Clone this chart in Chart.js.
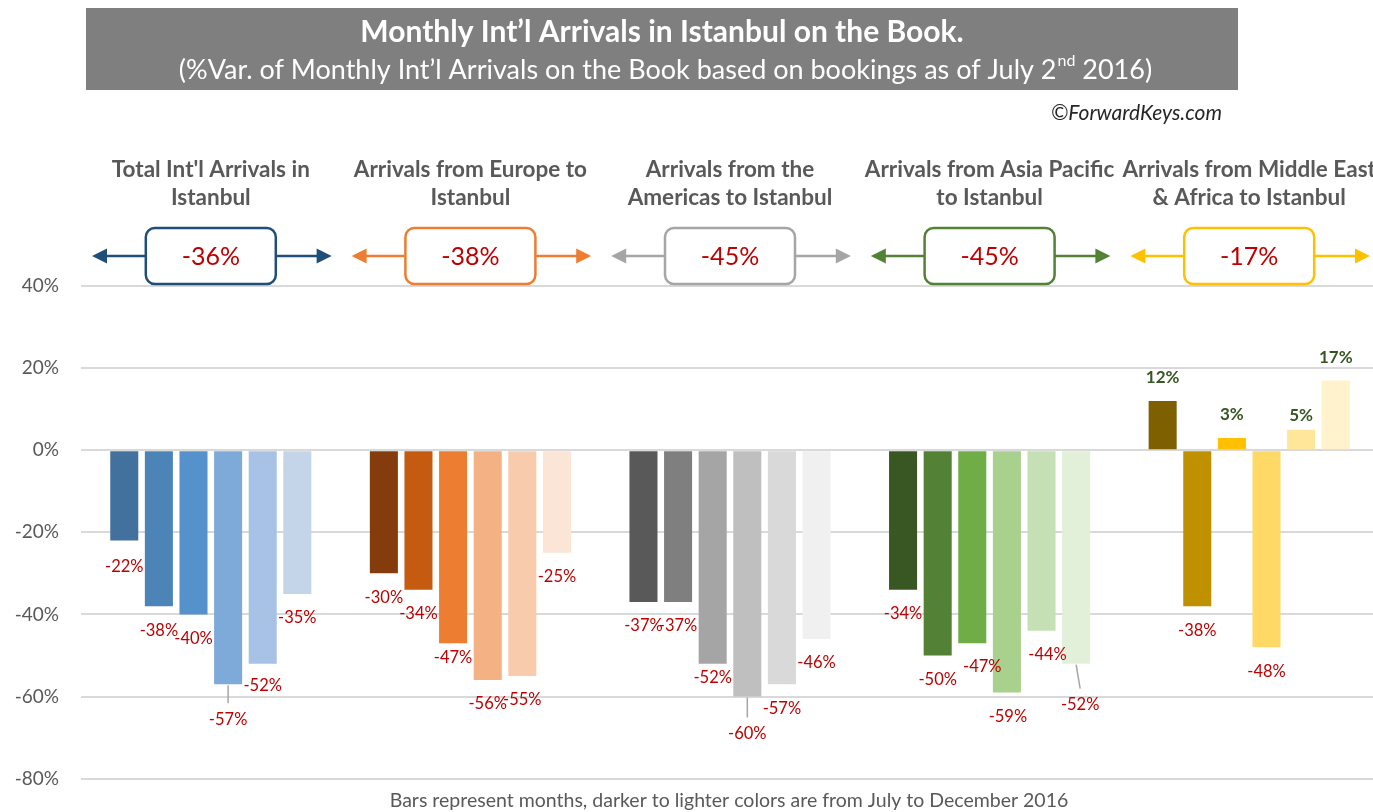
<!DOCTYPE html>
<html><head><meta charset="utf-8">
<script src="https://cdn.jsdelivr.net/npm/chart.js@4.4.1/dist/chart.umd.min.js"></script>
<style>html,body{margin:0;padding:0;overflow:hidden;background:#fff}#wrap{width:1373px;height:812px;overflow:hidden;position:relative}#c{display:block}</style>
</head><body><div id="wrap"><canvas id="c" width="1380" height="812"></canvas></div>
<script>
// ---- data ----
const groupNames = [
  ["Total Int'l Arrivals in", "Istanbul"],
  ["Arrivals from Europe to", "Istanbul"],
  ["Arrivals from the", "Americas to Istanbul"],
  ["Arrivals from Asia Pacific", "to Istanbul"],
  ["Arrivals from Middle East", "& Africa to Istanbul"]
];
const groupTotals = ["-36%", "-38%", "-45%", "-45%", "-17%"];
const months = ["Jul", "Aug", "Sep", "Oct", "Nov", "Dec"];
const totalIntl        = [-22, -38, -40, -57, -52, -35];
const europe           = [-30, -34, -47, -56, -55, -25];
const americas         = [-37, -37, -52, -60, -57, -46];
const asiaPacific      = [-34, -50, -47, -59, -44, -52];
const middleEastAfrica = [ 12, -38,   3, -48,   5,  17];
const yTicks = [40, 20, 0, -20, -40, -60, -80];

// ---- styles ----
const FONT = "Lato, 'Open Sans', sans-serif";
const palettes = [
  ['#43719d', '#4d84b7', '#5592cb', '#7eaad9', '#a7c2e4', '#c4d5ea'],
  ['#843c0c', '#c55a11', '#ed7d31', '#f4b183', '#f8cbad', '#fbe5d6'],
  ['#595959', '#7f7f7f', '#a5a5a5', '#bfbfbf', '#d9d9d9', '#f0f0f0'],
  ['#385723', '#538135', '#70ad47', '#a9d18e', '#c5e0b4', '#e2f0d9'],
  ['#7f6000', '#bf9000', '#ffc000', '#ffd966', '#ffe699', '#fff2cc']
];
const accentColors = ['#1f4e79', '#ed7d31', '#a5a5a5', '#548235', '#ffc000'];

const seriesByGroup = [totalIntl, europe, americas, asiaPacific, middleEastAfrica];
const datasets = months.map((m, i) => ({
  label: m,
  data: seriesByGroup.map(s => s[i]),
  backgroundColor: palettes.map(p => p[i]),
  borderWidth: 0,
  categoryPercentage: 0.8,
  barPercentage: 0.81
}));

// label adjustments: key "datasetIndex,groupIndex"
const labelAdjust = {
  "3,0": {dy: 35, line: true},
  "3,2": {dy: 37, line: true},
  "5,3": {dy: 41, dx: 4, line: true},
  "4,0": {dy: 22},
  "2,1": {dy: 15},
  "2,2": {dy: 14},
  "4,4": {dy: -14},
  "0,0": {dy: 26},
  "2,3": {dx: 10},
  "3,3": {dx: 1},
  "4,3": {dx: 6}
};

const headerPlugin = {
  id: 'header',
  beforeDraw(chart) {
    const ctx = chart.ctx;
    ctx.save();
    // title box
    ctx.fillStyle = '#7f7f7f';
    ctx.fillRect(86, 8, 1152, 82);
    ctx.fillStyle = '#ffffff';
    ctx.textAlign = 'center';
    ctx.textBaseline = 'middle';
    ctx.font = "bold 30px " + FONT;
    ctx.fillText("Monthly Int\u2019l Arrivals in Istanbul on the Book.", 662, 32);
    // subtitle with superscript
    const p1 = "(%Var. of Monthly Int\u2019l Arrivals on the Book based on bookings as of July 2";
    const p2 = "nd";
    const p3 = " 2016)";
    ctx.font = "27px " + FONT;
    const w1 = ctx.measureText(p1).width, w3 = ctx.measureText(p3).width;
    ctx.font = "16px " + FONT;
    const w2 = ctx.measureText(p2).width;
    let x0 = 665 - (w1 + w2 + w3) / 2;
    ctx.textAlign = 'left';
    ctx.font = "27px " + FONT;
    ctx.fillText(p1, x0, 70);
    ctx.font = "16px " + FONT;
    ctx.fillText(p2, x0 + w1 + 1, 61);
    ctx.font = "27px " + FONT;
    ctx.fillText(p3, x0 + w1 + w2 + 1, 70);
    // copyright
    ctx.fillStyle = '#262626';
    ctx.textAlign = 'right';
    ctx.font = "italic 21px " + FONT;
    ctx.fillText("\u00a9ForwardKeys.com", 1222, 113);
    ctx.restore();
  },
  afterDraw(chart) {
    const ctx = chart.ctx;
    const xs = chart.scales.x;
    const half = (xs.right - xs.left) / groupNames.length / 2;
    ctx.save();
    groupNames.forEach((lines, j) => {
      const cx = xs.getPixelForValue(j);
      // group header
      ctx.fillStyle = '#595959';
      ctx.font = "bold 22.5px " + FONT;
      ctx.textAlign = 'center';
      ctx.textBaseline = 'middle';
      ctx.fillText(lines[0], cx, 170);
      ctx.fillText(lines[1], cx, 198);
      // arrows
      const col = accentColors[j];
      const cy = 256;
      const bw = 130, bh = 56;
      const tipL = cx - half + 11, tipR = cx + half - 9;
      ctx.strokeStyle = col; ctx.fillStyle = col; ctx.lineWidth = 2.5;
      ctx.beginPath();
      ctx.moveTo(tipL + 10, cy); ctx.lineTo(cx - bw / 2, cy);
      ctx.moveTo(cx + bw / 2, cy); ctx.lineTo(tipR - 10, cy);
      ctx.stroke();
      ctx.beginPath();
      ctx.moveTo(tipL, cy); ctx.lineTo(tipL + 15, cy - 7.5); ctx.lineTo(tipL + 15, cy + 7.5); ctx.closePath();
      ctx.fill();
      ctx.beginPath();
      ctx.moveTo(tipR, cy); ctx.lineTo(tipR - 15, cy - 7.5); ctx.lineTo(tipR - 15, cy + 7.5); ctx.closePath();
      ctx.fill();
      // box
      ctx.beginPath();
      ctx.roundRect(cx - bw / 2, cy - bh / 2, bw, bh, 9);
      ctx.fillStyle = '#ffffff';
      ctx.fill();
      ctx.lineWidth = 2.5;
      ctx.stroke();
      ctx.fillStyle = '#c00000';
      ctx.font = "25px " + FONT;
      ctx.fillText(groupTotals[j], cx, cy + 1);
    });
    // caption
    ctx.fillStyle = '#595959';
    ctx.font = "19.5px " + FONT;
    ctx.textAlign = 'center';
    ctx.fillText("Bars represent months, darker to lighter colors are from July to December 2016", 729, 801);
    ctx.restore();
  }
};

const labelPlugin = {
  id: 'barLabels',
  afterDatasetsDraw(chart) {
    const ctx = chart.ctx;
    ctx.save();
    ctx.textAlign = 'center';
    ctx.textBaseline = 'middle';
    chart.data.datasets.forEach((ds, i) => {
      const meta = chart.getDatasetMeta(i);
      meta.data.forEach((bar, j) => {
        const v = ds.data[j];
        const adj = labelAdjust[i + ',' + j] || {};
        const neg = v < 0;
        const dy = adj.dy !== undefined ? adj.dy : (neg ? 24 : -23);
        const dx = adj.dx || 0;
        const lx = bar.x + dx, ly = bar.y + dy;
        if (adj.line) {
          ctx.strokeStyle = '#a6a6a6';
          ctx.lineWidth = 1.5;
          ctx.beginPath();
          ctx.moveTo(bar.x, bar.y + 1);
          ctx.lineTo(lx, ly - 16);
          ctx.stroke();
        }
        if (neg) {
          ctx.fillStyle = '#c00000';
          ctx.font = "16.5px " + FONT;
        } else {
          ctx.fillStyle = '#375623';
          ctx.font = "bold 17px " + FONT;
        }
        ctx.fillText(v + '%', lx, ly);
      });
    });
    ctx.restore();
  }
};

new Chart(document.getElementById('c'), {
  type: 'bar',
  data: { labels: groupNames.map(g => g.join(' ')), datasets },
  options: {
    responsive: false,
    animation: false,
    devicePixelRatio: 1,
    layout: { padding: { top: 286, bottom: 28, left: 0, right: 1 } },
    plugins: { legend: { display: false }, tooltip: { enabled: false } },
    scales: {
      x: { display: false },
      y: {
        min: -80, max: 40,
        afterFit(scale) { scale.width = 81; },
        afterBuildTicks(scale) { scale.ticks = yTicks.map(v => ({ value: v })); },
        ticks: {
          callback: v => v + '%',
          color: '#595959',
          font: { family: FONT, size: 19 },
          padding: 22
        },
        grid: { color: '#d9d9d9', lineWidth: 2, drawTicks: false },
        border: { display: false }
      }
    }
  },
  plugins: [headerPlugin, labelPlugin]
});
</script>
</body></html>
